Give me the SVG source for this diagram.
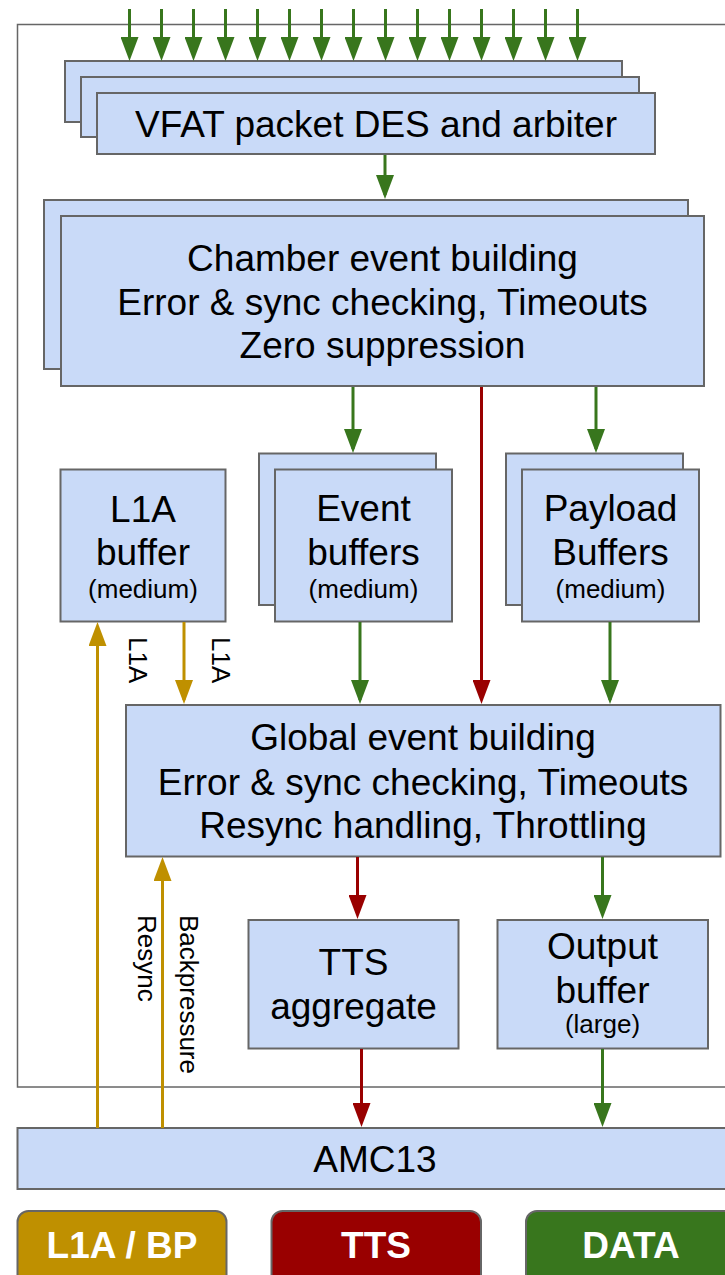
<svg xmlns="http://www.w3.org/2000/svg" width="725" height="1275" viewBox="0 0 725 1275">
  <defs>
    <style>
      .box { fill: #c9daf8; stroke: #666666; stroke-width: 2; }
      .frame { fill: none; stroke: #666666; stroke-width: 1.5; }
      .t { font-family: "Liberation Sans", Arial, sans-serif; font-size: 37px; fill: #000; text-anchor: middle; }
      .s { font-family: "Liberation Sans", Arial, sans-serif; font-size: 26px; fill: #000; text-anchor: middle; }
      .lbl { font-family: "Liberation Sans", Arial, sans-serif; font-size: 26px; fill: #000; }
      .leg { font-family: "Liberation Sans", Arial, sans-serif; font-size: 37px; font-weight: bold; fill: #ffffff; text-anchor: middle; }
      .g { stroke: #38761d; stroke-width: 3; fill: none; marker-end: url(#ag); }
      .r { stroke: #990000; stroke-width: 3; fill: none; marker-end: url(#ar); }
      .y { stroke: #bf9000; stroke-width: 3; fill: none; marker-end: url(#ay); }
    </style>
    <marker id="ag" viewBox="0 0 24 18" refX="20" refY="9" markerWidth="24" markerHeight="18" orient="auto" markerUnits="userSpaceOnUse">
      <path d="M0,0 L24,9 L0,18 Z" fill="#38761d"/>
    </marker>
    <marker id="ar" viewBox="0 0 24 18" refX="20" refY="9" markerWidth="24" markerHeight="18" orient="auto" markerUnits="userSpaceOnUse">
      <path d="M0,0 L24,9 L0,18 Z" fill="#990000"/>
    </marker>
    <marker id="ay" viewBox="0 0 24 18" refX="20" refY="9" markerWidth="24" markerHeight="18" orient="auto" markerUnits="userSpaceOnUse">
      <path d="M0,0 L24,9 L0,18 Z" fill="#bf9000"/>
    </marker>
  </defs>

  <rect width="725" height="1275" fill="#ffffff"/>

  <!-- board outline -->
  <rect class="frame" x="17.5" y="24.5" width="730" height="1062.5"/>

  <g id="vfat">
    <rect class="box" x="65" y="61" width="557" height="61"/>
    <rect class="box" x="81" y="77" width="558" height="60"/>
    <rect class="box" x="97" y="93" width="558" height="61"/>
    <text class="t" x="376" y="137">VFAT packet DES and arbiter</text>
  </g>

  <g id="chamber">
    <rect class="box" x="44" y="200" width="644" height="169"/>
    <rect class="box" x="61" y="216" width="643" height="170"/>
    <text class="t" x="382.5" y="271">Chamber event building</text>
    <text class="t" x="382.5" y="315">Error &amp; sync checking, Timeouts</text>
    <text class="t" x="382.5" y="358">Zero suppression</text>
  </g>

  <g id="l1a-buffer">
    <rect class="box" x="60.5" y="469.5" width="165" height="152"/>
    <text class="t" x="143" y="522">L1A</text>
    <text class="t" x="143" y="565">buffer</text>
    <text class="s" x="143" y="598">(medium)</text>
  </g>

  <g id="event-buffers">
    <rect class="box" x="259" y="453.5" width="177" height="151.5"/>
    <rect class="box" x="275" y="469.5" width="177" height="152"/>
    <text class="t" x="363.5" y="521">Event</text>
    <text class="t" x="363.5" y="565">buffers</text>
    <text class="s" x="363.5" y="598">(medium)</text>
  </g>

  <g id="payload-buffers">
    <rect class="box" x="506" y="453.5" width="177" height="151.5"/>
    <rect class="box" x="522" y="469.5" width="177" height="152"/>
    <text class="t" x="610.5" y="521">Payload</text>
    <text class="t" x="610.5" y="565">Buffers</text>
    <text class="s" x="610.5" y="598">(medium)</text>
  </g>

  <g id="global">
    <rect class="box" x="126" y="705" width="594.5" height="151.5"/>
    <text class="t" x="423" y="750">Global event building</text>
    <text class="t" x="423" y="795">Error &amp; sync checking, Timeouts</text>
    <text class="t" x="423" y="838">Resync handling, Throttling</text>
  </g>

  <g id="tts-aggregate">
    <rect class="box" x="248.5" y="920" width="210" height="128.5"/>
    <text class="t" x="353.5" y="975">TTS</text>
    <text class="t" x="353.5" y="1019">aggregate</text>
  </g>

  <g id="output-buffer">
    <rect class="box" x="497.5" y="920" width="210.5" height="128.5"/>
    <text class="t" x="602.5" y="959">Output</text>
    <text class="t" x="602.5" y="1003">buffer</text>
    <text class="s" x="602.5" y="1033">(large)</text>
  </g>

  <g id="amc13">
    <rect class="box" x="17.5" y="1128" width="730" height="61"/>
    <text class="t" x="375" y="1172">AMC13</text>
  </g>

  <g id="connectors">
    <!-- VFAT links -->
    <line class="g" x1="129.5" y1="9" x2="129.5" y2="57"/>
    <line class="g" x1="161.5" y1="9" x2="161.5" y2="57"/>
    <line class="g" x1="193.5" y1="9" x2="193.5" y2="57"/>
    <line class="g" x1="225.5" y1="9" x2="225.5" y2="57"/>
    <line class="g" x1="257.5" y1="9" x2="257.5" y2="57"/>
    <line class="g" x1="289.5" y1="9" x2="289.5" y2="57"/>
    <line class="g" x1="321.5" y1="9" x2="321.5" y2="57"/>
    <line class="g" x1="353.5" y1="9" x2="353.5" y2="57"/>
    <line class="g" x1="385.5" y1="9" x2="385.5" y2="57"/>
    <line class="g" x1="417.5" y1="9" x2="417.5" y2="57"/>
    <line class="g" x1="449.5" y1="9" x2="449.5" y2="57"/>
    <line class="g" x1="481.5" y1="9" x2="481.5" y2="57"/>
    <line class="g" x1="513.5" y1="9" x2="513.5" y2="57"/>
    <line class="g" x1="545.5" y1="9" x2="545.5" y2="57"/>
    <line class="g" x1="577.5" y1="9" x2="577.5" y2="57"/>

    <!-- data path -->
    <line class="g" x1="385" y1="155" x2="385" y2="195"/>
    <line class="g" x1="353" y1="387" x2="353" y2="449"/>
    <line class="g" x1="596" y1="387" x2="596" y2="449"/>
    <line class="g" x1="360" y1="622" x2="360" y2="700"/>
    <line class="g" x1="610" y1="622" x2="610" y2="700"/>
    <line class="g" x1="602.5" y1="857" x2="602.5" y2="915"/>
    <line class="g" x1="602.5" y1="1049" x2="602.5" y2="1123"/>

    <!-- TTS path -->
    <line class="r" x1="481.5" y1="387" x2="481.5" y2="700"/>
    <line class="r" x1="357.5" y1="857" x2="357.5" y2="915"/>
    <line class="r" x1="361.5" y1="1049" x2="361.5" y2="1123"/>

    <!-- L1A / backpressure -->
    <line class="y" x1="97.5" y1="1128" x2="97.5" y2="626"/>
    <line class="y" x1="184" y1="622" x2="184" y2="700"/>
    <line class="y" x1="162.5" y1="1128" x2="162.5" y2="861"/>

    <text class="lbl" transform="translate(128.5,637) rotate(90)">L1A</text>
    <text class="lbl" transform="translate(211.5,637) rotate(90)">L1A</text>
    <text class="lbl" transform="translate(138,915) rotate(90)">Resync</text>
    <text class="lbl" transform="translate(179.5,915) rotate(90)">Backpressure</text>
  </g>

  <!-- legend -->
  <g id="legend-l1a">
    <rect x="17.5" y="1211" width="209" height="90" rx="11" fill="#bf9000" stroke="#666666" stroke-width="2"/>
    <text class="leg" x="122" y="1258">L1A / BP</text>
  </g>
  <g id="legend-tts">
    <rect x="271.5" y="1211" width="209.5" height="90" rx="11" fill="#990000" stroke="#666666" stroke-width="2"/>
    <text class="leg" x="376" y="1258">TTS</text>
  </g>
  <g id="legend-data">
    <rect x="526" y="1211" width="230" height="90" rx="11" fill="#38761d" stroke="#666666" stroke-width="2"/>
    <text class="leg" x="631" y="1258">DATA</text>
  </g>
</svg>
